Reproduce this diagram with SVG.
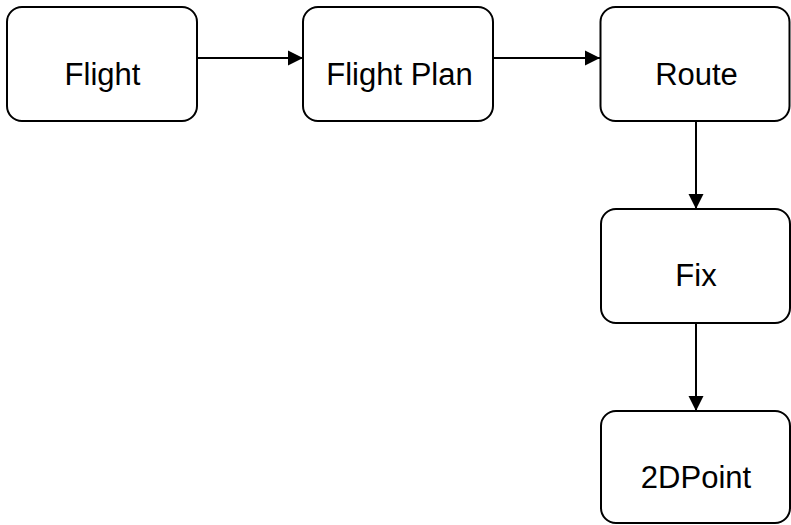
<svg xmlns="http://www.w3.org/2000/svg" width="791" height="525" viewBox="0 0 791 525">
<style>
.box{fill:#fff;stroke:#000;stroke-width:2}
.lbl{font-family:"Liberation Sans",Arial,sans-serif;font-size:31px;fill:#000;text-anchor:middle}
.edge{fill:none;stroke:#000;stroke-width:2}
</style>
<defs>
<marker id="arr" markerUnits="userSpaceOnUse" markerWidth="16" markerHeight="16" refX="15" refY="8" orient="auto" viewBox="0 0 16 16">
<path d="M0,0.5 L15,8 L0,15.5 Z" fill="#000"/>
</marker>
</defs>
<rect width="791" height="525" fill="#fff"/>
<g id="connectors">
<path class="edge" d="M197,58 L303,58" marker-end="url(#arr)"/>
<path class="edge" d="M493,58 L600,58" marker-end="url(#arr)"/>
<path class="edge" d="M696,121 L696,209" marker-end="url(#arr)"/>
<path class="edge" d="M696,323 L696,411" marker-end="url(#arr)"/>
</g>
<g id="flight"><rect class="box" x="7" y="7" width="190" height="114" rx="15"/><text class="lbl" x="102.5" y="84.5">Flight</text></g>
<g id="flightplan"><rect class="box" x="303" y="7" width="190" height="114" rx="15"/><text class="lbl" x="399.5" y="84.5">Flight Plan</text></g>
<g id="route"><rect class="box" x="600.5" y="7" width="189" height="114" rx="15"/><text class="lbl" x="696.5" y="84.5">Route</text></g>
<g id="fix"><rect class="box" x="601" y="209" width="189" height="114" rx="15"/><text class="lbl" x="696" y="286">Fix</text></g>
<g id="point2d"><rect class="box" x="601" y="411" width="189" height="112" rx="15"/><text class="lbl" x="696" y="488">2DPoint</text></g>
</svg>
